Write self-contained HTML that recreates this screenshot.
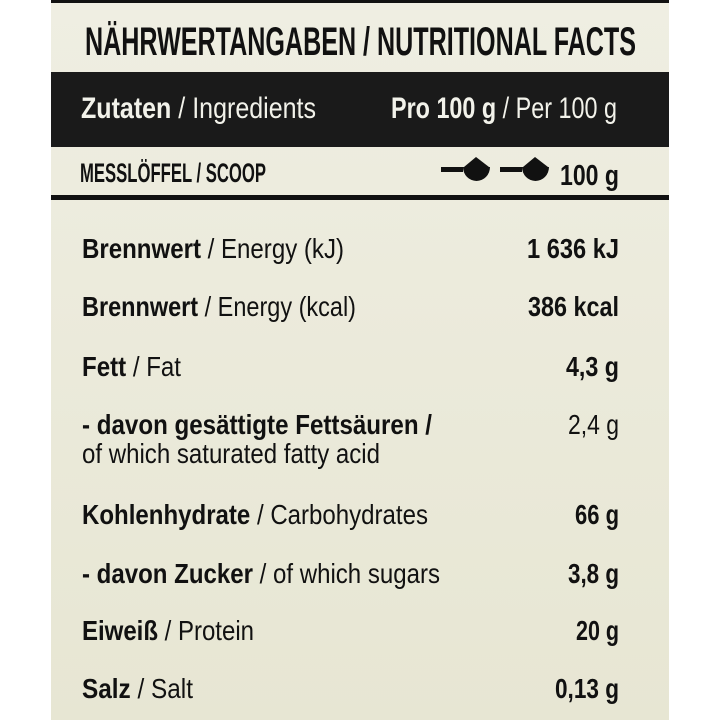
<!DOCTYPE html>
<html><head><meta charset="utf-8"><style>
html,body{margin:0;padding:0;background:#fff;}
svg{display:block}
text{font-family:"Liberation Sans",sans-serif;fill:#111;}
</style></head><body>
<svg width="720" height="720" viewBox="0 0 720 720" xmlns="http://www.w3.org/2000/svg">
<defs><linearGradient id="bg" x1="0" y1="0" x2="0" y2="1"><stop offset="0" stop-color="#efeee2"/><stop offset="1" stop-color="#e7e6d3"/></linearGradient></defs>
<rect x="51" y="0" width="618" height="720" fill="url(#bg)"/>
<rect x="51" y="0" width="618" height="3" fill="#111"/>
<rect x="51" y="72" width="618" height="75" fill="#1a1a1a"/>
<rect x="51" y="195" width="618" height="5" fill="#111"/>
<text x="85" y="55" font-size="40" font-weight="bold" textLength="551" lengthAdjust="spacingAndGlyphs">NÄHRWERTANGABEN / NUTRITIONAL FACTS</text>
<text x="81" y="118" font-size="30" style="fill:#f2f2ea" textLength="235" lengthAdjust="spacingAndGlyphs"><tspan font-weight="bold">Zutaten</tspan> / Ingredients</text>
<text x="391" y="118" font-size="30" style="fill:#f2f2ea" textLength="226" lengthAdjust="spacingAndGlyphs"><tspan font-weight="bold">Pro 100 g</tspan> / Per 100 g</text>
<text x="80" y="182" font-size="27" font-weight="bold" textLength="186" lengthAdjust="spacingAndGlyphs">MESSLÖFFEL / SCOOP</text>
<g fill="#111">
<rect x="441" y="167" width="22" height="5"/><path d="M463 167 h27 a13.5 14 0 0 1 -27 0 Z"/><path d="M464 167 L476 157 L489 167 Z"/>
<rect x="500" y="167" width="22" height="5"/><path d="M522 167 h27 a13.5 14 0 0 1 -27 0 Z"/><path d="M523 167 L535 157 L548 167 Z"/>
</g>
<text x="560" y="185" font-size="29" font-weight="bold" textLength="59" lengthAdjust="spacingAndGlyphs">100 g</text>
<g font-size="28">
<text x="82" y="258" textLength="262" lengthAdjust="spacingAndGlyphs"><tspan font-weight="bold">Brennwert</tspan> / Energy (kJ)</text>
<text x="527" y="258" font-weight="bold" textLength="92" lengthAdjust="spacingAndGlyphs">1 636 kJ</text>
<text x="82" y="316" textLength="274" lengthAdjust="spacingAndGlyphs"><tspan font-weight="bold">Brennwert</tspan> / Energy (kcal)</text>
<text x="528" y="316" font-weight="bold" textLength="91" lengthAdjust="spacingAndGlyphs">386 kcal</text>
<text x="82" y="376" textLength="99" lengthAdjust="spacingAndGlyphs"><tspan font-weight="bold">Fett</tspan> / Fat</text>
<text x="566" y="376" font-weight="bold" textLength="53" lengthAdjust="spacingAndGlyphs">4,3 g</text>
<text x="82" y="434" font-weight="bold" textLength="350" lengthAdjust="spacingAndGlyphs">- davon gesättigte Fettsäuren /</text>
<text x="82" y="463" textLength="298" lengthAdjust="spacingAndGlyphs">of which saturated fatty acid</text>
<text x="568" y="434" textLength="51" lengthAdjust="spacingAndGlyphs">2,4 g</text>
<text x="82" y="524" textLength="346" lengthAdjust="spacingAndGlyphs"><tspan font-weight="bold">Kohlenhydrate</tspan> / Carbohydrates</text>
<text x="575" y="524" font-weight="bold" textLength="44" lengthAdjust="spacingAndGlyphs">66 g</text>
<text x="82" y="583" textLength="358" lengthAdjust="spacingAndGlyphs"><tspan font-weight="bold">- davon Zucker</tspan> / of which sugars</text>
<text x="568" y="583" font-weight="bold" textLength="51" lengthAdjust="spacingAndGlyphs">3,8 g</text>
<text x="82" y="640" textLength="172" lengthAdjust="spacingAndGlyphs"><tspan font-weight="bold">Eiweiß</tspan> / Protein</text>
<text x="576" y="640" font-weight="bold" textLength="43" lengthAdjust="spacingAndGlyphs">20 g</text>
<text x="82" y="698" textLength="111" lengthAdjust="spacingAndGlyphs"><tspan font-weight="bold">Salz</tspan> / Salt</text>
<text x="555" y="698" font-weight="bold" textLength="64" lengthAdjust="spacingAndGlyphs">0,13 g</text>
</g>
</svg>
</body></html>
